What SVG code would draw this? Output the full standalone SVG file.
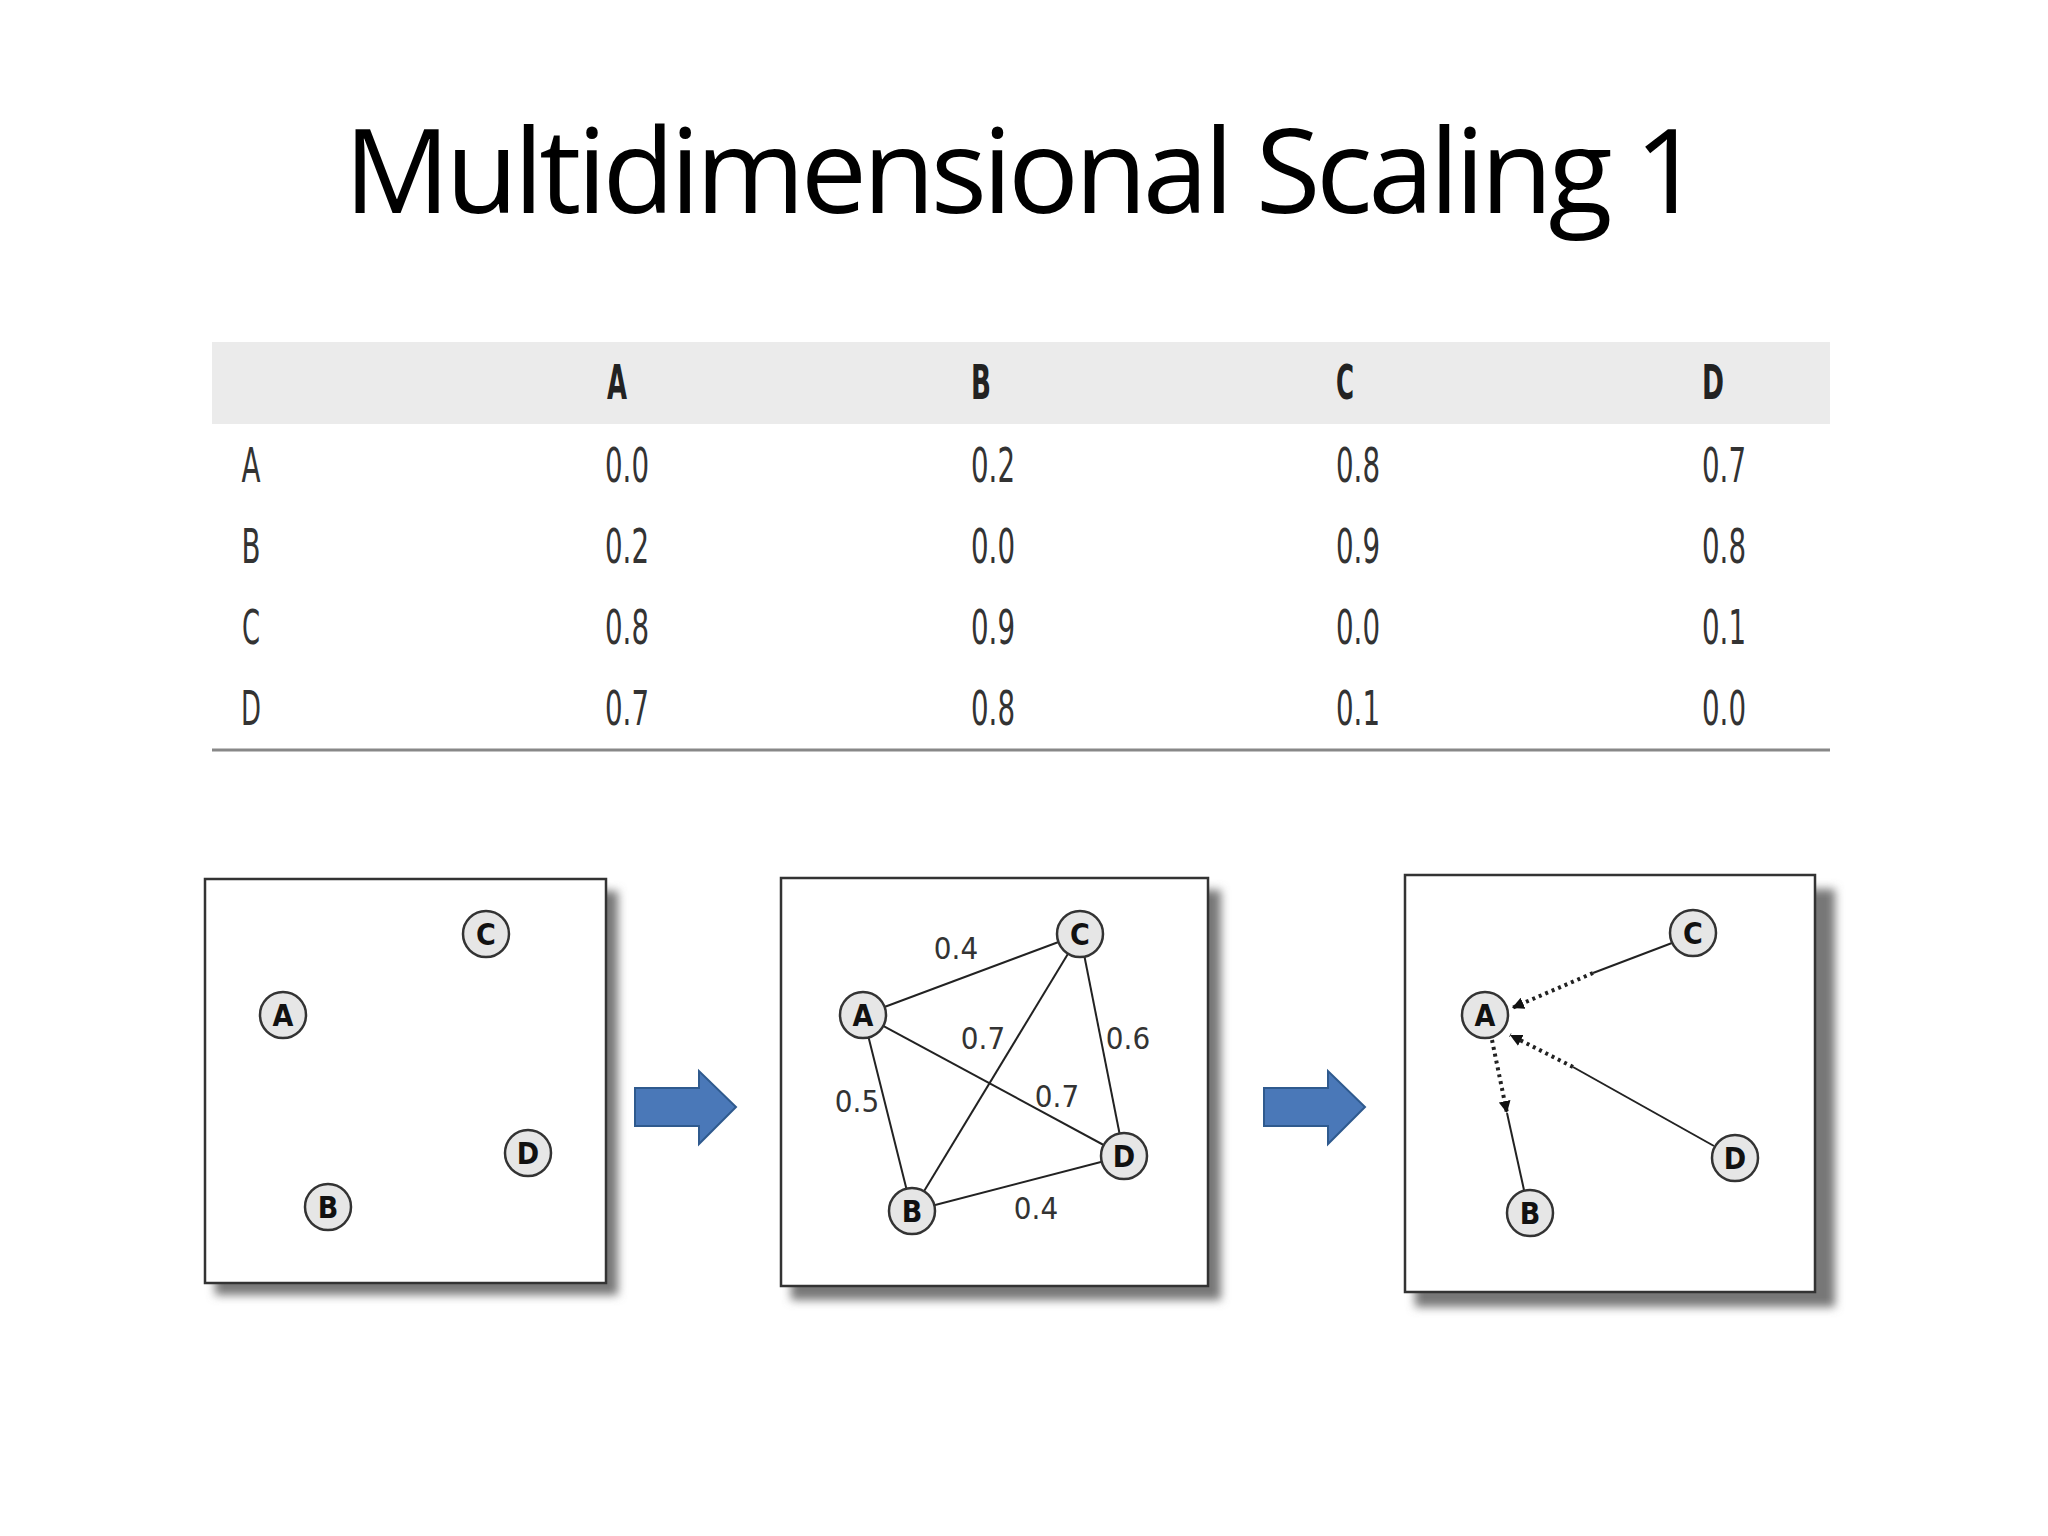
<svg xmlns="http://www.w3.org/2000/svg" width="2048" height="1536" viewBox="0 0 2048 1536">
<defs>
<filter id="sh" x="-10%" y="-10%" width="130%" height="130%"><feGaussianBlur stdDeviation="5"/></filter>
<marker id="ah" viewBox="0 0 10 10" refX="10" refY="5" markerWidth="12" markerHeight="12" markerUnits="userSpaceOnUse" orient="auto"><path d="M0,0 L10,5 L0,10 z" fill="#111"/></marker>
</defs>
<style>
.t{font-family:"Liberation Sans Narrow","DejaVu Sans Condensed","Liberation Sans",sans-serif;font-size:48px;fill:#333;text-anchor:middle}
.h{font-weight:bold;fill:#222}
.box{fill:#fff;stroke:#333;stroke-width:2.5}
.shd{fill:#777;filter:url(#sh)}
.n circle{fill:#e6e6e6;stroke:#333;stroke-width:2.5}
.n text{font-family:"Liberation Sans Narrow","DejaVu Sans Condensed",sans-serif;font-weight:bold;font-size:30px;fill:#111;text-anchor:middle}
.e{stroke:#222;stroke-width:2;fill:none}
.d{stroke:#222;stroke-width:4;stroke-dasharray:3 4;fill:none}
.lb{font-family:"Liberation Sans Narrow","DejaVu Sans Condensed",sans-serif;font-size:31px;fill:#333;text-anchor:middle}
.ar{fill:#4a78b8;stroke:#2f5a8e;stroke-width:2}
</style>
<rect width="2048" height="1536" fill="#fff"/>
<text x="1023" y="213" font-family="Open Sans, Liberation Sans, sans-serif" font-size="118" textLength="1358" fill="#000" text-anchor="middle">Multidimensional Scaling 1</text>
<g id="table">
<rect x="212" y="342" width="1618" height="82" fill="#ebebeb"/>
<line x1="212" y1="750" x2="1830" y2="750" stroke="#888" stroke-width="3"/>
<g class="t h"><text x="617" y="399" textLength="20" lengthAdjust="spacingAndGlyphs">A</text><text x="981" y="399" textLength="20" lengthAdjust="spacingAndGlyphs">B</text><text x="1345" y="399" textLength="18" lengthAdjust="spacingAndGlyphs">C</text><text x="1713" y="399" textLength="22" lengthAdjust="spacingAndGlyphs">D</text></g>
<g class="t"><text x="251" y="482" textLength="19" lengthAdjust="spacingAndGlyphs">A</text><text x="251" y="563" textLength="19" lengthAdjust="spacingAndGlyphs">B</text><text x="251" y="644" textLength="18" lengthAdjust="spacingAndGlyphs">C</text><text x="251" y="725" textLength="20" lengthAdjust="spacingAndGlyphs">D</text></g>
<g class="t" lengthAdjust="spacingAndGlyphs">
<text x="627" y="482" textLength="44" lengthAdjust="spacingAndGlyphs">0.0</text><text x="993" y="482" textLength="44" lengthAdjust="spacingAndGlyphs">0.2</text><text x="1358" y="482" textLength="44" lengthAdjust="spacingAndGlyphs">0.8</text><text x="1724" y="482" textLength="44" lengthAdjust="spacingAndGlyphs">0.7</text>
<text x="627" y="563" textLength="44" lengthAdjust="spacingAndGlyphs">0.2</text><text x="993" y="563" textLength="44" lengthAdjust="spacingAndGlyphs">0.0</text><text x="1358" y="563" textLength="44" lengthAdjust="spacingAndGlyphs">0.9</text><text x="1724" y="563" textLength="44" lengthAdjust="spacingAndGlyphs">0.8</text>
<text x="627" y="644" textLength="44" lengthAdjust="spacingAndGlyphs">0.8</text><text x="993" y="644" textLength="44" lengthAdjust="spacingAndGlyphs">0.9</text><text x="1358" y="644" textLength="44" lengthAdjust="spacingAndGlyphs">0.0</text><text x="1724" y="644" textLength="44" lengthAdjust="spacingAndGlyphs">0.1</text>
<text x="627" y="725" textLength="44" lengthAdjust="spacingAndGlyphs">0.7</text><text x="993" y="725" textLength="44" lengthAdjust="spacingAndGlyphs">0.8</text><text x="1358" y="725" textLength="44" lengthAdjust="spacingAndGlyphs">0.1</text><text x="1724" y="725" textLength="44" lengthAdjust="spacingAndGlyphs">0.0</text>
</g>
</g>
<g id="panel1">
<rect class="shd" x="215" y="891" width="403" height="404"/>
<rect class="box" x="205" y="879" width="401" height="404"/>
<g class="n" id="p1A"><circle cx="283" cy="1015" r="23"/><text x="283" y="1026">A</text></g>
<g class="n" id="p1B"><circle cx="328" cy="1207" r="23"/><text x="328" y="1218">B</text></g>
<g class="n" id="p1C"><circle cx="486" cy="934" r="23"/><text x="486" y="945">C</text></g>
<g class="n" id="p1D"><circle cx="528" cy="1153" r="23"/><text x="528" y="1164">D</text></g>
</g>
<g id="arrow1"><path class="ar" d="M635,1088 H699 V1071 L736,1107 L699,1144 V1126 H635 Z"/></g>
<g id="panel2">
<rect class="shd" x="791" y="890" width="430" height="410"/>
<rect class="box" x="781" y="878" width="427" height="408"/>
<g id="p2edges">
<line class="e" x1="863" y1="1015" x2="1080" y2="934"/>
<line class="e" x1="863" y1="1015" x2="1124" y2="1156"/>
<line class="e" x1="863" y1="1015" x2="912" y2="1211"/>
<line class="e" x1="1080" y1="934" x2="912" y2="1211"/>
<line class="e" x1="1080" y1="934" x2="1124" y2="1156"/>
<line class="e" x1="912" y1="1211" x2="1124" y2="1156"/>
</g>
<g class="lb"><text x="956" y="959">0.4</text><text x="983" y="1049">0.7</text><text x="1128" y="1049">0.6</text><text x="857" y="1112">0.5</text><text x="1057" y="1107">0.7</text><text x="1036" y="1219">0.4</text></g>
<g class="n"><circle cx="863" cy="1015" r="23"/><text x="863" y="1026">A</text></g>
<g class="n"><circle cx="912" cy="1211" r="23"/><text x="912" y="1222">B</text></g>
<g class="n"><circle cx="1080" cy="934" r="23"/><text x="1080" y="945">C</text></g>
<g class="n"><circle cx="1124" cy="1156" r="23"/><text x="1124" y="1167">D</text></g>
</g>
<g id="arrow2"><path class="ar" d="M1264,1088 H1328 V1071 L1365,1107 L1328,1144 V1126 H1264 Z"/></g>
<g id="panel3">
<rect class="shd" x="1415" y="889" width="420" height="418"/>
<rect class="box" x="1405" y="875" width="410" height="417"/>
<g id="p3edges">
<line class="e" x1="1672" y1="943" x2="1593" y2="973"/>
<line class="d" x1="1593" y1="973" x2="1512" y2="1008" marker-end="url(#ah)"/>
<line class="e" x1="1714" y1="1146" x2="1573" y2="1067"/>
<line class="d" x1="1573" y1="1067" x2="1510" y2="1035" marker-end="url(#ah)"/>
<line class="d" x1="1492" y1="1040" x2="1507" y2="1113" marker-end="url(#ah)"/>
<line class="e" x1="1507" y1="1113" x2="1524" y2="1190"/>
</g>
<g class="n"><circle cx="1485" cy="1015" r="23"/><text x="1485" y="1026">A</text></g>
<g class="n"><circle cx="1530" cy="1213" r="23"/><text x="1530" y="1224">B</text></g>
<g class="n"><circle cx="1693" cy="933" r="23"/><text x="1693" y="944">C</text></g>
<g class="n"><circle cx="1735" cy="1158" r="23"/><text x="1735" y="1169">D</text></g>
</g>
</svg>
